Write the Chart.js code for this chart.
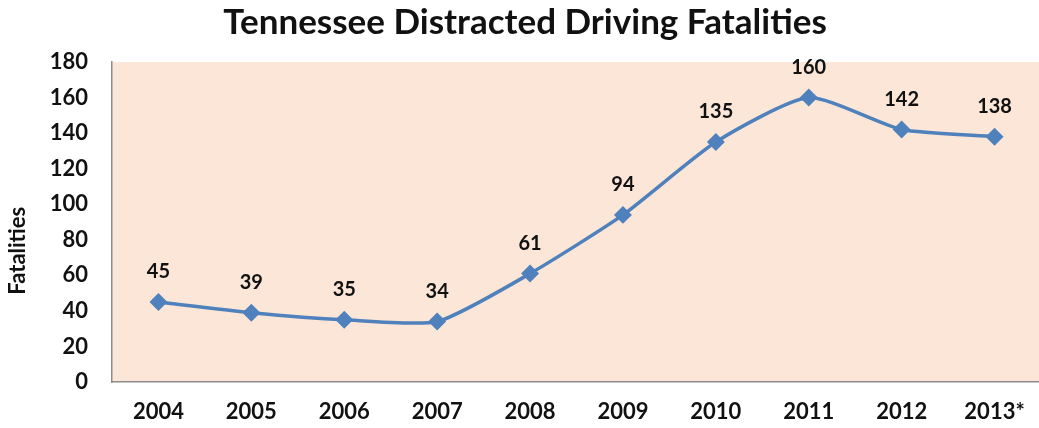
<!DOCTYPE html>
<html><head><meta charset="utf-8">
<script src="https://cdn.jsdelivr.net/npm/chart.js@4"></script>
<style>
html,body{margin:0;padding:0;background:#fff;overflow:hidden;width:1039px;height:428px;}
#wrap{width:1051px;height:428px;position:relative;}
</style></head>
<body><div id="wrap"><canvas id="c"></canvas></div>
<script>
const years = ['2004','2005','2006','2007','2008','2009','2010','2011','2012','2013*'];
const fatalities = [45,39,35,34,61,94,135,160,142,138];
const yTicks = [0,20,40,60,80,100,120,140,160,180];
const yTitle = 'Fatalities';
const FONT = 'Lato, "Open Sans", sans-serif';

const bgPlugin = {
  id:'bg',
  beforeDraw(chart){
    const {ctx, chartArea:a} = chart;
    ctx.save(); ctx.fillStyle='#FCE6D8';
    ctx.fillRect(a.left,a.top,a.right-a.left,a.bottom-a.top);
    ctx.restore();
  }
};
const yTitlePlugin = {
  id:'ytitle',
  afterDraw(chart){
    const {ctx, chartArea:a} = chart;
    ctx.save();
    ctx.translate(18, a.top + (a.bottom-a.top)*0.59);
    ctx.rotate(-Math.PI/2);
    ctx.font = 'bold 22px ' + FONT;
    ctx.fillStyle='#111'; ctx.textAlign='center'; ctx.textBaseline='middle';
    ctx.fillText(yTitle,0,0);
    ctx.restore();
  }
};
const labelPlugin = {
  id:'labels',
  afterDatasetsDraw(chart){
    const {ctx} = chart;
    const meta = chart.getDatasetMeta(0);
    ctx.save();
    ctx.font = 'bold 20px ' + FONT;
    ctx.fillStyle = '#111';
    ctx.textAlign='center'; ctx.textBaseline='middle';
    meta.data.forEach((pt,i)=>{
      ctx.fillText(String(chart.data.datasets[0].data[i]), pt.x, pt.y-30);
    });
    ctx.restore();
  }
};

new Chart(document.getElementById('c'), {
  type:'line',
  data:{labels:years, datasets:[{
    data:fatalities,
    borderColor:'#4F81BD', backgroundColor:'#4F81BD',
    borderWidth:3.5, tension:0.2,
    pointStyle:'rectRot', pointRadius:6.5, pointHoverRadius:6.5,
    pointBackgroundColor:'#4F81BD', pointBorderColor:'#4F81BD'
  }]},
  options:{
    responsive:true, maintainAspectRatio:false, animation:false,
    devicePixelRatio:1,
    layout:{padding:{left:0,right:1,top:0,bottom:0}},
    plugins:{
      legend:{display:false}, tooltip:{enabled:false},
      title:{display:true, text:'Tennessee Distracted Driving Fatalities',
        color:'#111', font:{family:FONT, size:35, weight:'bold', lineHeight:1.2},
        padding:{top:2,bottom:18}}
    },
    scales:{
      x:{
        offset:true,
        grid:{display:false, drawTicks:false},
        border:{display:true,color:'#8c8c8c',width:1.5},
        ticks:{color:'#111', font:{family:FONT,size:22,weight:'bold'}, padding:17},
        afterFit(s){ s.height = 46; }
      },
      y:{
        min:0,max:180,
        afterBuildTicks(s){ s.ticks = yTicks.map(v=>({value:v})); },
        grid:{display:false, drawTicks:false},
        border:{display:true,color:'#8c8c8c',width:1.5},
        ticks:{color:'#111', font:{family:FONT,size:22,weight:'bold'}, padding:24},
        afterFit(s){ s.width = 112; }
      }
    }
  },
  plugins:[bgPlugin,yTitlePlugin,labelPlugin]
});
</script></body></html>
